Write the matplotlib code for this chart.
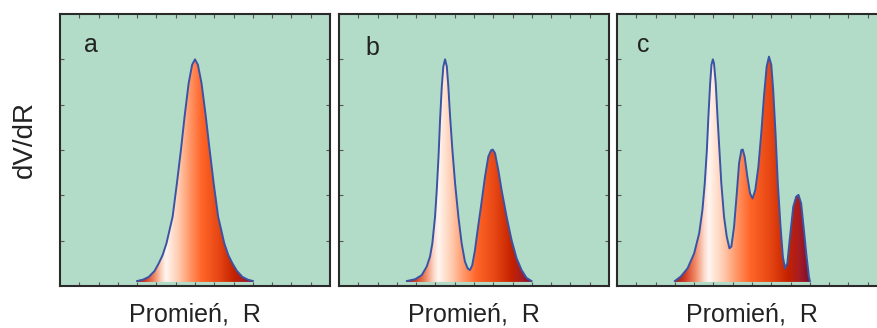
import numpy as np
import matplotlib
matplotlib.use("Agg")
import matplotlib.pyplot as plt
from matplotlib.colors import LinearSegmentedColormap
from matplotlib.patches import Polygon

plt.rcParams['font.family'] = ['Liberation Sans', 'DejaVu Sans']

# Data
panel_labels = ["a", "b", "c"]
x_label = "Promień,  R"
y_label = "dV/dR"

a_x = [4.0, 4.3, 4.6, 4.9, 5.12, 5.32, 5.52, 5.84, 6.06, 6.27, 6.46, 6.67, 6.85, 7.0,
       7.15, 7.34, 7.56, 7.76, 7.97, 8.2, 8.52, 8.73, 8.94, 9.18, 9.46, 9.74, 10.0]
a_y = [0.11, 0.14, 0.2, 0.33, 0.5, 0.68, 0.94, 1.53, 2.26, 3.0, 3.74, 4.47, 4.88, 5.0,
       4.88, 4.47, 3.74, 3.0, 2.26, 1.53, 0.94, 0.68, 0.5, 0.33, 0.2, 0.14, 0.11]

b_x = [3.52, 3.95, 4.29, 4.55, 4.72, 4.84, 4.98, 5.07, 5.16, 5.24, 5.33, 5.41, 5.5, 5.59,
       5.67, 5.76, 5.88, 6.02, 6.19, 6.36, 6.53, 6.67, 6.79, 6.91, 7.05, 7.19, 7.36, 7.57,
       7.74, 7.88, 7.97, 8.09, 8.26, 8.43, 8.69, 8.95, 9.21, 9.47, 9.72, 9.98]
b_y = [0.11, 0.15, 0.24, 0.43, 0.65, 0.94, 1.53, 2.12, 2.85, 3.66, 4.4, 4.84, 5.0, 4.84,
       4.4, 3.74, 3.0, 2.26, 1.53, 0.94, 0.54, 0.39, 0.35, 0.46, 0.79, 1.24, 1.75, 2.41,
       2.85, 2.99, 3.01, 2.93, 2.56, 2.12, 1.53, 1.01, 0.61, 0.35, 0.18, 0.11]

c_x = [3.0, 3.31, 3.66, 4.0, 4.26, 4.43, 4.55, 4.66, 4.74, 4.83, 4.9, 4.97, 5.03, 5.12,
       5.21, 5.31, 5.41, 5.55, 5.69, 5.83, 5.93, 6.07, 6.21, 6.33, 6.45, 6.52, 6.62, 6.76,
       6.9, 7.03, 7.17, 7.33, 7.48, 7.62, 7.76, 7.88, 8.0, 8.1, 8.22, 8.34, 8.48, 8.6,
       8.71, 8.83, 8.97, 9.14, 9.29, 9.41, 9.55, 9.69, 9.83, 9.95, 10.0]
c_y = [0.11, 0.21, 0.39, 0.72, 1.16, 1.68, 2.26, 3.0, 3.74, 4.47, 4.88, 5.0, 4.91, 4.47,
       3.74, 3.0, 2.26, 1.53, 1.09, 0.83, 0.87, 1.31, 2.04, 2.71, 3.0, 3.01, 2.85, 2.41,
       2.04, 1.93, 2.12, 2.63, 3.37, 4.18, 4.84, 5.06, 4.88, 4.32, 3.37, 2.26, 1.31, 0.65,
       0.39, 0.5, 1.09, 1.75, 1.97, 2.01, 1.82, 1.24, 0.65, 0.21, 0.11]

curves = [(a_x, a_y), (b_x, b_y), (c_x, c_y)]

# styles
bg = '#b3dcc8'
line_col = '#3b53a4'
text_col = '#222222'
grad = LinearSegmentedColormap.from_list('peach', [
    (0.0, '#9a1c1e'), (0.07, '#d03a22'), (0.15, '#f08a66'), (0.21, '#fcd4c4'),
    (0.25, '#fff6f0'), (0.36, '#ffcaae'), (0.46, '#ff9464'), (0.56, '#ff6428'),
    (0.7, '#e84814'), (0.84, '#c42200'), (0.92, '#a81c22'), (1.0, '#7a1030')])

W, H = 878, 328
fig = plt.figure(figsize=(W / 100, H / 100), dpi=100)
lefts = [60, 339, 617]
label_pos = [(0.114, 0.886), (0.125, 0.875), (0.096, 0.886)]
base = 0.09

for i, (x, y) in enumerate(curves):
    ax = fig.add_axes([lefts[i] / W, (H - 286) / H, 270 / W, 272 / H])
    ax.set_facecolor(bg)

    # gradient fill clipped to the area under the curve
    verts = np.column_stack([np.r_[x[0], x, x[-1]], np.r_[base, y, base]])
    poly = Polygon(verts, closed=True, facecolor='none', edgecolor='none')
    ax.add_patch(poly)
    g = np.linspace(0, 1, 512).reshape(1, -1)
    im = ax.imshow(g, cmap=grad, aspect='auto', origin='lower',
                   extent=[x[0], x[-1], base, max(y)], zorder=2)
    im.set_clip_path(poly)
    ax.plot(x, y, color=line_col, lw=1.4, zorder=3, solid_joinstyle='round')

    ax.set_xlim(0, 14)
    ax.set_ylim(0, 6)
    ax.set_xticks(np.arange(1, 14))
    ax.set_yticks(np.arange(1, 6))
    ax.tick_params(direction='in', top=True, right=True, length=3, width=0.8,
                   color='#555555', labelbottom=False, labelleft=False)
    for s in ax.spines.values():
        s.set_linewidth(1.5)
        s.set_color('#2a2a2a')

    ax.text(label_pos[i][0], label_pos[i][1], panel_labels[i], transform=ax.transAxes,
            ha='center', va='center', fontsize=18, color=text_col)
    ax.text(0.5, -0.132, x_label, transform=ax.transAxes, ha='center',
            va='baseline', fontsize=18, color=text_col)
    if i == 0:
        ax.text(-0.13, 0.54, y_label, transform=ax.transAxes, rotation=90,
                ha='center', va='center', fontsize=20, color=text_col)

fig.savefig('out.png', dpi=100)
